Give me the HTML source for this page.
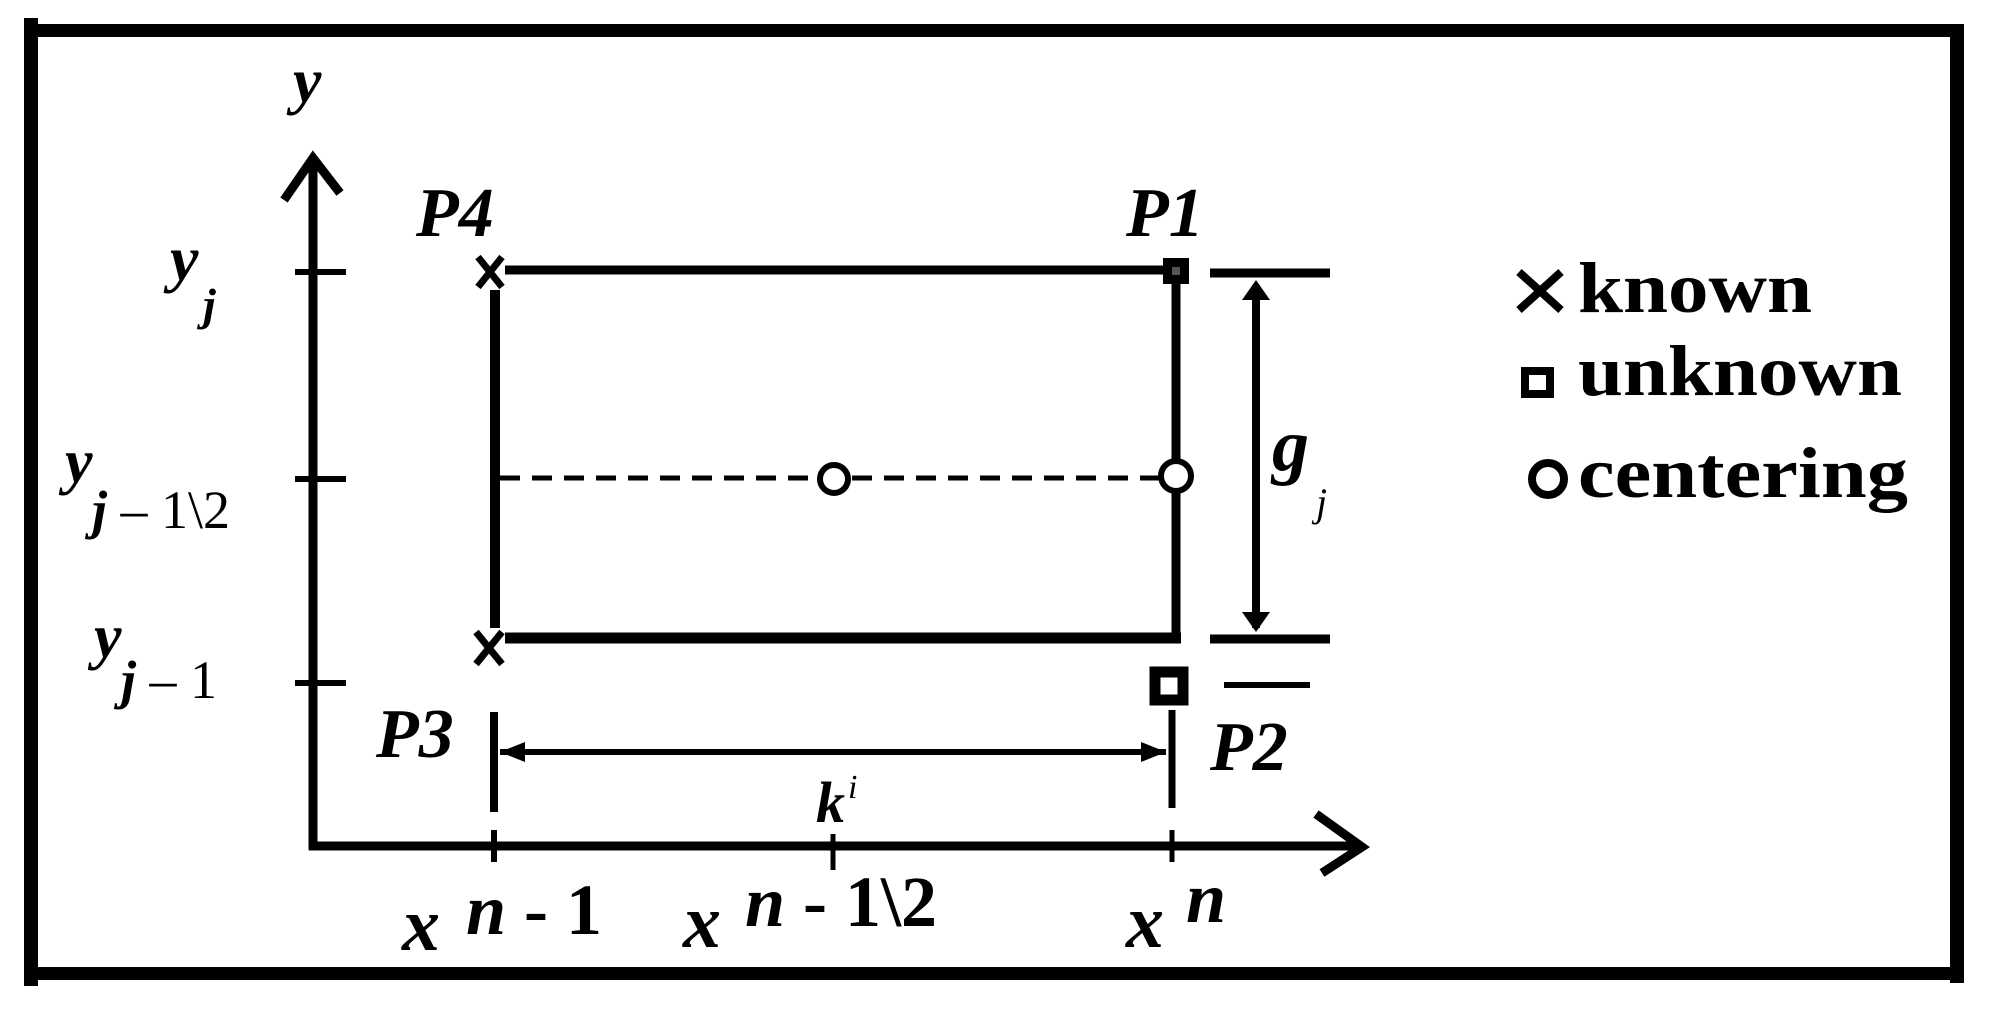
<!DOCTYPE html>
<html><head><meta charset="utf-8"><style>
html,body{margin:0;padding:0;background:#fff;}
svg{display:block;}
text{font-family:"Liberation Serif",serif;fill:#000;}
.i{font-style:italic;}
.b{font-weight:bold;}
</style></head><body>
<svg width="1991" height="1013" viewBox="0 0 1991 1013" xmlns="http://www.w3.org/2000/svg">
<rect x="0" y="0" width="1991" height="1013" fill="#fff"/>
<!-- frame -->
<rect x="24" y="18" width="14" height="968" fill="#000"/>
<rect x="24" y="24" width="1940" height="13" fill="#000"/>
<rect x="1950" y="24" width="14" height="959" fill="#000"/>
<rect x="24" y="967" width="1940" height="13" fill="#000"/>

<g stroke="#000" fill="none" stroke-linecap="butt">
<line x1="313" y1="158" x2="313" y2="850" stroke-width="9"/>
<polyline points="284,200 313,158 340,193" stroke-width="9"/>
<line x1="309" y1="846" x2="1360" y2="846" stroke-width="9"/>
<polyline points="1316,814 1362,847 1322,873" stroke-width="9"/>
<line x1="295" y1="272" x2="346" y2="272" stroke-width="6"/>
<line x1="295" y1="479" x2="346" y2="479" stroke-width="6"/>
<line x1="295" y1="683" x2="346" y2="683" stroke-width="6"/>
<line x1="494" y1="830" x2="494" y2="862" stroke-width="6"/>
<line x1="833" y1="834" x2="833" y2="870" stroke-width="5"/>
<line x1="1172" y1="830" x2="1172" y2="862" stroke-width="5"/>
<line x1="505" y1="270" x2="1165" y2="270" stroke-width="9"/>
<line x1="505" y1="638" x2="1181" y2="638" stroke-width="11"/>
<line x1="495" y1="290" x2="495" y2="628" stroke-width="10"/>
<line x1="1176" y1="280" x2="1176" y2="643" stroke-width="9"/>
<line x1="500" y1="478" x2="1160" y2="478" stroke-width="5" stroke-dasharray="20,12"/>
<circle cx="834" cy="479" r="14" stroke-width="6" fill="#fff"/>
<circle cx="1176" cy="476" r="15" stroke-width="6" fill="#fff"/>
<path d="M478,257 L502,287 M502,257 L478,287" stroke-width="7"/>
<path d="M476,632 L502,664 M502,632 L476,664" stroke-width="7"/>
<line x1="1210" y1="273" x2="1330" y2="273" stroke-width="9"/>
<line x1="1210" y1="639" x2="1330" y2="639" stroke-width="9"/>
<line x1="1256" y1="285" x2="1256" y2="628" stroke-width="8"/>
<line x1="1224" y1="685" x2="1310" y2="685" stroke-width="6"/>
<line x1="494" y1="712" x2="494" y2="812" stroke-width="8"/>
<line x1="1172" y1="710" x2="1172" y2="808" stroke-width="7"/>
<line x1="500" y1="752" x2="1166" y2="752" stroke-width="6"/>
</g>
<polygon points="1256,280 1242,300 1270,300" fill="#000"/>
<polygon points="1256,632 1242,612 1270,612" fill="#000"/>
<polygon points="500,752 525,742 525,762" fill="#000"/>
<polygon points="1166,752 1141,742 1141,762" fill="#000"/>
<rect x="1163" y="258" width="26" height="26" fill="#000"/>
<rect x="1172" y="267" width="8" height="8" fill="#555"/>
<rect x="1155" y="672" width="28" height="28" fill="none" stroke="#000" stroke-width="11"/>

<text class="i b" x="293" y="102" font-size="64">y</text>
<text class="i b" x="170" y="280" font-size="64">y</text>
<text class="i b" x="203" y="320" font-size="46">j</text>
<text class="i b" x="65" y="482" font-size="62">y</text>
<text x="92" y="528" font-size="54"><tspan class="i b">j</tspan> – 1\2</text>
<text class="i b" x="94" y="657" font-size="62">y</text>
<text x="121" y="698" font-size="54"><tspan class="i b">j</tspan> – 1</text>

<text class="i b" x="416" y="236" font-size="70">P4</text>
<text class="i b" x="1126" y="236" font-size="70">P1</text>
<text class="i b" x="376" y="757" font-size="70">P3</text>
<text class="i b" x="1210" y="770" font-size="70">P2</text>

<text class="i b" x="816" y="822" font-size="58">k</text>
<text class="i" x="848" y="798" font-size="34">i</text>
<text class="i b" x="1272" y="470" font-size="74">g</text>
<text class="i" x="1316" y="516" font-size="40">j</text>

<text class="i b" x="402" y="950" font-size="76">x</text>
<text class="b" x="466" y="934" font-size="72"><tspan class="i">n</tspan> - 1</text>
<text class="i b" x="683" y="947" font-size="76">x</text>
<text class="b" x="745" y="926" font-size="72"><tspan class="i">n</tspan> - 1\2</text>
<text class="i b" x="1126" y="947" font-size="76">x</text>
<text class="i b" x="1186" y="922" font-size="72">n</text>

<path d="M1519,272 L1561,310 M1561,272 L1519,310" stroke="#000" stroke-width="8"/>
<text class="b" x="1578" y="312" font-size="72" textLength="234" lengthAdjust="spacingAndGlyphs">known</text>
<rect x="1525" y="371" width="25" height="23" fill="none" stroke="#000" stroke-width="8"/>
<text class="b" x="1578" y="395" font-size="72" textLength="324" lengthAdjust="spacingAndGlyphs">unknown</text>
<circle cx="1548" cy="479" r="16" fill="none" stroke="#000" stroke-width="8"/>
<text class="b" x="1578" y="497" font-size="72" textLength="330" lengthAdjust="spacingAndGlyphs">centering</text>
</svg>
</body></html>
